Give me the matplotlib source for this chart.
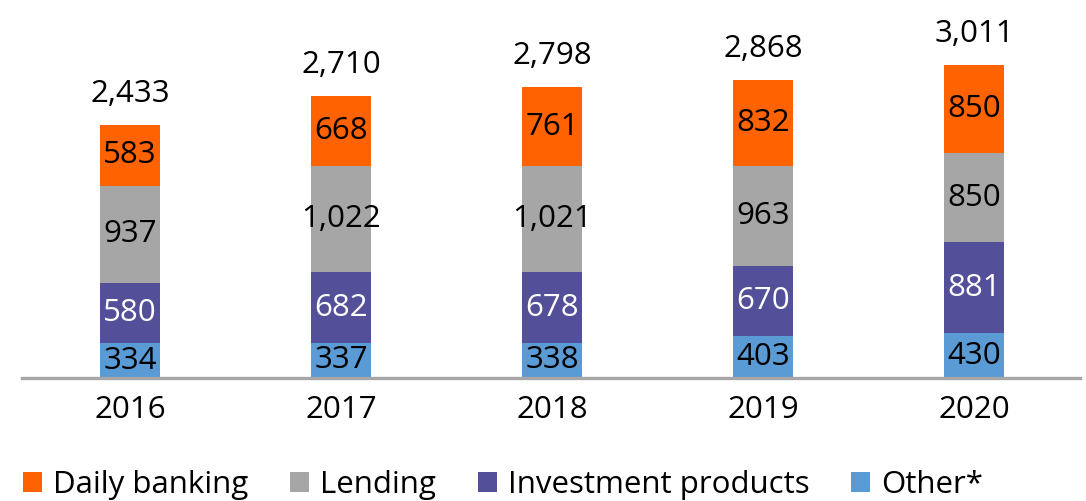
import matplotlib
matplotlib.use("Agg")
import matplotlib.pyplot as plt
import numpy as np

years = ["2016", "2017", "2018", "2019", "2020"]
other = [334, 337, 338, 403, 430]
investment = [580, 682, 678, 670, 881]
lending = [937, 1022, 1021, 963, 850]
daily = [583, 668, 761, 832, 850]
totals = [2433, 2710, 2798, 2868, 3011]

series_names = ["Daily banking", "Lending", "Investment products", "Other*"]

plt.rcParams['font.family'] = ['Open Sans', 'DejaVu Sans']
FS = 22.5

fig = plt.figure(figsize=(10.86, 5.01), dpi=100)
ax = fig.add_axes([22/1086, (501-378)/501, (1080-22)/1086, 378/501])

x = np.arange(len(years))
w = 0.284
stack = [(other, "#5A9BD5", "black", "Other*"),
         (investment, "#534F98", "white", "Investment products"),
         (lending, "#A6A6A6", "black", "Lending"),
         (daily, "#FF6200", "black", "Daily banking")]
bottom = np.zeros(len(years))
handles = {}
for vals, col, tcol, name in stack:
    vals = np.array(vals, dtype=float)
    bars = ax.bar(x, vals, w, bottom=bottom, color=col, label=name, zorder=2)
    handles[name] = bars
    for xi, b, v in zip(x, bottom, vals):
        ax.text(xi, b + v/2, f"{int(v):,}", ha='center', va='center',
                color=tcol, fontsize=FS, zorder=3)
    bottom += vals

for xi, top, t in zip(x, bottom, totals):
    ax.annotate(f"{t:,}", (xi, top), xytext=(0, 22.5), textcoords='offset points',
                ha='center', va='center', fontsize=FS, color='black')

ax.set_xlim(-0.512, 4.5)
ax.set_ylim(0, 3636)
for s in ['top', 'left', 'right']:
    ax.spines[s].set_visible(False)
ax.spines['bottom'].set_color('#A6A6A6')
ax.spines['bottom'].set_linewidth(2.4)
ax.spines['bottom'].set_zorder(4)
ax.set_yticks([])
ax.set_xticks(x)
ax.set_xticklabels(years, fontsize=FS)
ax.tick_params(axis='x', length=0, pad=12)

leg = fig.legend([handles[n] for n in series_names], series_names,
                 loc='center left', bbox_to_anchor=(23/1086, 1 - 485/501),
                 ncol=4, frameon=False, fontsize=FS,
                 handlelength=0.6, handleheight=0.6, handletextpad=0.35,
                 columnspacing=1.35, borderaxespad=0, borderpad=0)

fig.savefig("out.png", dpi=100)
